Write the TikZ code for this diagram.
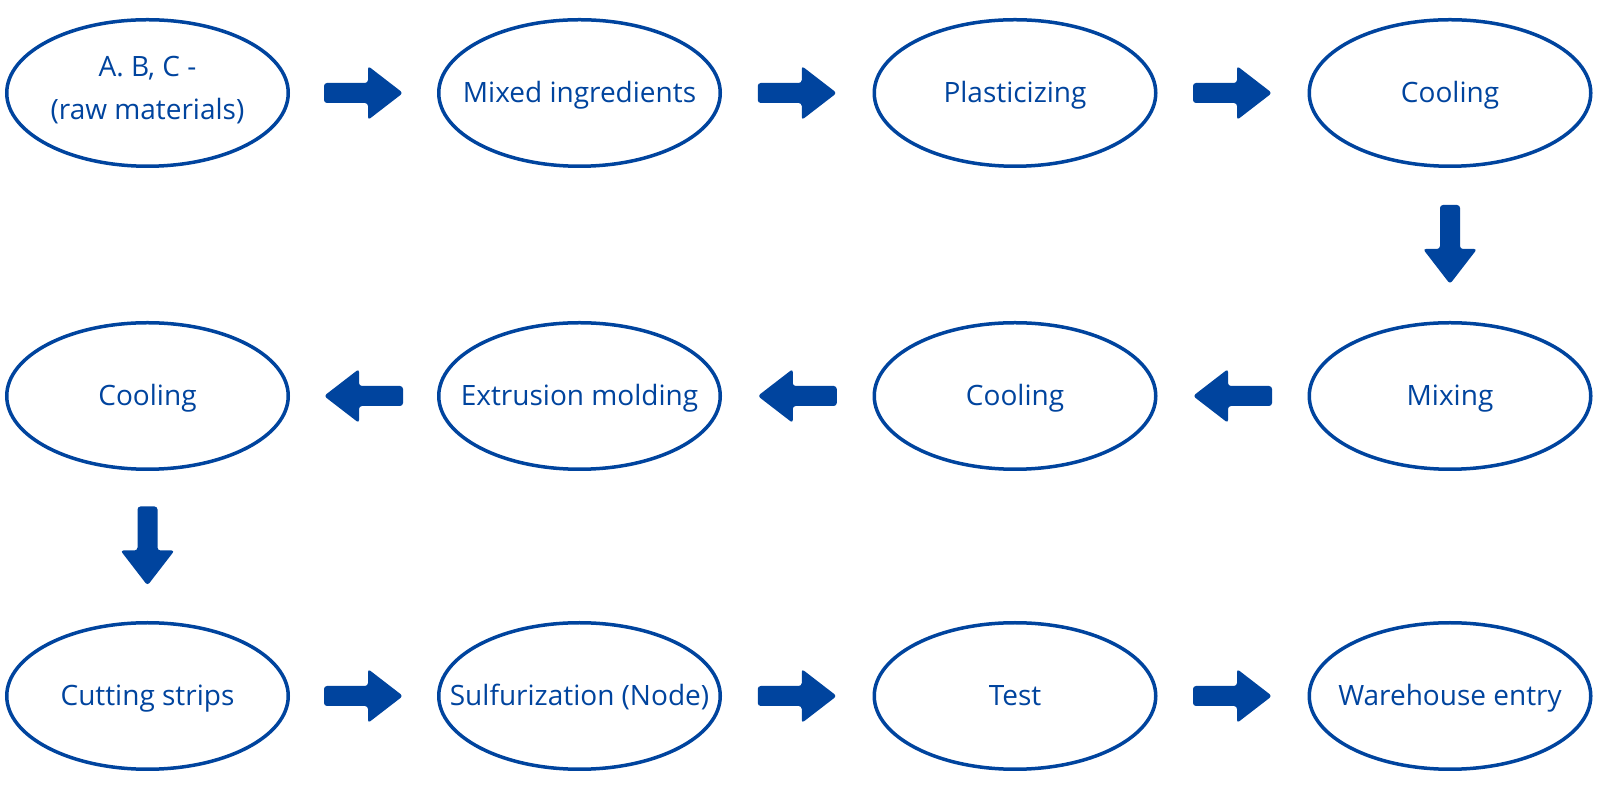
\documentclass[tikz,border=0pt]{standalone}
\usepackage{fontspec}
\setmainfont{Open Sans}
\usetikzlibrary{shapes.geometric}
\definecolor{flowblue}{RGB}{0,68,158}
\newcommand\stagetext[1]{\makebox[0pt]{#1}}
\tikzset{
  stage/.style={ellipse, draw=flowblue, line width=3.5pt, minimum width=281.5pt,
    minimum height=146.5pt, inner sep=0pt, outer sep=0pt, text=flowblue,
    font=\fontsize{28}{43}\selectfont, text height=20pt, text depth=0pt},
  blockarrow/.pic={\fill[flowblue, rounded corners=3pt]
    (-39.5pt,-10pt) -- (4.5pt,-10pt) -- (4.5pt,-27pt) -- (39.5pt,0pt) --
    (4.5pt,27pt) -- (4.5pt,10pt) -- (-39.5pt,10pt) -- cycle;}
}
\begin{document}
\begin{tikzpicture}[x=1pt, y=1pt]
\fill[white] (0,0) rectangle (1600,800);
\useasboundingbox (0,0) rectangle (1600,800);
% row 1
\node[stage, text height=54pt] (raw) at (147.5,707)
  {\stagetext{\begin{tabular}[b]{@{}c@{}}A. B, C -\\(raw materials)\end{tabular}}};
\node[stage] (mixed) at (579.5,707) {\stagetext{Mixed ingredients}};
\node[stage] (plast) at (1015,707) {\stagetext{Plasticizing}};
\node[stage] (cool1) at (1450,707) {\stagetext{Cooling}};
% row 2
\node[stage] (mixing) at (1450,404) {\stagetext{Mixing}};
\node[stage] (cool2) at (1015,404) {\stagetext{Cooling}};
\node[stage] (extr) at (579.5,404) {\stagetext{Extrusion molding}};
\node[stage] (cool3) at (147.5,404) {\stagetext{Cooling}};
% row 3
\node[stage] (cut) at (147.5,104) {\stagetext{Cutting strips}};
\node[stage] (sulf) at (579.5,104) {\stagetext{Sulfurization (Node)}};
\node[stage] (test) at (1015,104) {\stagetext{Test}};
\node[stage] (ware) at (1450,104) {\stagetext{Warehouse entry}};
% connectors
\foreach \a/\b/\ang in {raw/mixed/0, mixed/plast/0, plast/cool1/0,
    cool1/mixing/-90, mixing/cool2/180, cool2/extr/180, extr/cool3/180,
    cool3/cut/-90, cut/sulf/0, sulf/test/0, test/ware/0}{
  \path (\a.center) -- (\b.center) coordinate[midway] (m-\a);
  \pic[rotate=\ang] at (m-\a) {blockarrow};
}
\end{tikzpicture}
\end{document}
